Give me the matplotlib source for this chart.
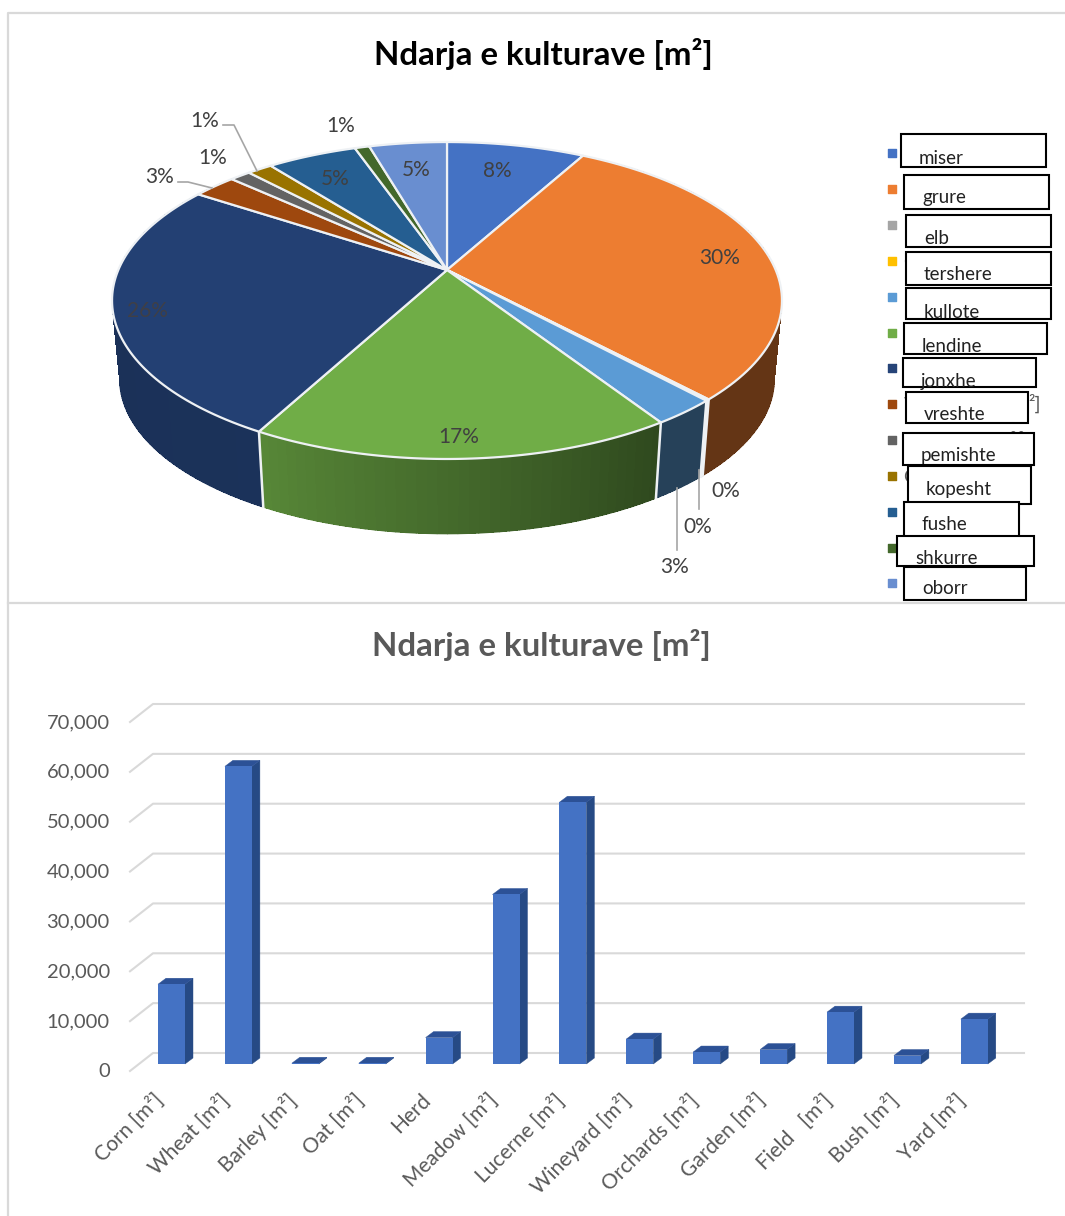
#!/usr/bin/env python3
"""Ndarja e kulturave: perspective pie on top, 3D looking columns below."""

import numpy as np
import matplotlib
matplotlib.use("Agg")
import matplotlib.pyplot as plt
from matplotlib.colors import to_rgb
from matplotlib.transforms import ScaledTranslation

plt.rcParams['font.family'] = ['Lato', 'DejaVu Sans']

# --- DATA ---
TITLE = "Ndarja e kulturave [m²]"
bar_labels = ['Corn [m²]', 'Wheat [m²]', 'Barley [m²]', 'Oat [m²]', 'Herd', 'Meadow [m²]', 'Lucerne [m²]',
              'Wineyard [m²]', 'Orchards [m²]', 'Garden [m²]', 'Field   [m²]', 'Bush [m²]', 'Yard [m²]']
areas = [16000, 59700, 150, 150, 5300, 34000, 52500, 5000, 2400, 2900, 10400, 1700, 9000]
legend_labels = ['miser', 'grure', 'elb', 'tershere', 'kullote', 'lendine', 'jonxhe',
                 'vreshte', 'pemishte', 'kopesht', 'fushe', 'shkurre', 'oborr']
y_ticks = [0, 10000, 20000, 30000, 40000, 50000, 60000, 70000]

slice_colors = ['#4472c4', '#ed7d31', '#a5a5a5', '#ffc000', '#5b9bd5', '#70ad47', '#234073',
                '#9e480e', '#636363', '#997300', '#255e91', '#43682b', '#698ed0']
legend_colors = slice_colors[:6] + ['#264478'] + slice_colors[7:]

# --- LAYOUT (pixels of the 1065x1216 page) ---
W, H = 1065, 1216
CX, CY = 447, 270
R, S, K = 328.7, 152.6, 0.1925
DEPTH, SHRINK = 79, 0.977
TEXT = '#404040'
GREY = '#595959'
LINE = '#d9d9d9'

# centre of each percentage label, same order as areas
pct_pos = [(497, 171), (720, 258), (726, 491), (698, 527), (675, 567), (459, 437), (147, 311),
           (160, 177), (213, 158), (205, 121), (335, 179), (341, 126), (416, 170)]
pct_colors = [TEXT] * 13
pct_colors[6] = '#3f3f46'
leaders = [([223, 234, 257], [125, 125, 171]),
           ([178, 188, 212], [182, 182, 188]),
           ([699, 699], [509, 470]),
           ([676.5, 676.5], [550, 488])]

legend_y = [153, 189, 225, 261, 297, 333, 368, 404, 440, 476, 512, 548, 583]
# x0, x1, y0, y1 of the white boxes pasted over the legend
boxes = [(901, 1046, 134, 167), (904, 1049, 175, 209), (906, 1051, 215, 247), (906, 1051, 252, 285),
         (906, 1051, 288, 319), (904, 1047, 323, 354), (903, 1036, 358, 387), (906, 1028, 392, 423),
         (903, 1034, 433, 465), (908, 1031, 466, 504), (904, 1019, 502, 537), (897, 1034, 536, 566),
         (904, 1026, 567, 600)]
box_text_x = [919, 922, 924, 924, 924, 922, 921, 924, 921, 926, 922, 915, 922]
box_text_y = [158, 198, 238, 275, 312, 346, 381, 415, 456, 489, 525, 559, 589]


def project(theta, bottom=False):
    """Circle angle (clockwise from top, radians) to page pixels, with perspective."""
    d = 1 + K * np.cos(theta)
    x = R * np.sin(theta) / d
    y = -S * np.cos(theta) / d
    if bottom:
        return CX + SHRINK * x, CY + DEPTH + SHRINK * y
    return CX + x, CY + y


def side_shade(theta_deg):
    return np.interp(theta_deg, [90, 147, 208, 300], [0.42, 0.42, 0.78, 0.75])


fig = plt.figure(figsize=(W / 100, H / 100), dpi=100, facecolor='white')
page = fig.add_axes([0, 0, 1, 1])
page.set_xlim(0, W)
page.set_ylim(H, 0)
page.axis('off')

# frame of the two pasted charts
page.plot([8, 8, W], [H, 13, 13], color=LINE, lw=1.6, zorder=1)
page.plot([8, W], [603, 603], color=LINE, lw=1.6, zorder=1)

page.text(543, 54, TITLE, ha='center', va='center', fontsize=23.8, fontweight='bold', color='black')
page.text(541, 645, TITLE, ha='center', va='center', fontsize=23.8, fontweight='bold', color=GREY)

# --- PIE ---
fractions = np.array(areas) / sum(areas)
edges = 2 * np.pi * np.concatenate([[0], np.cumsum(fractions)])

# outer wall first, the top covers whatever is behind it
for i, color in enumerate(slice_colors):
    a0, a1 = np.degrees(edges[i]), np.degrees(edges[i + 1])
    steps = np.arange(a0, a1, 1.5).tolist() + [a1]
    for t0, t1 in zip(steps[:-1], steps[1:]):
        thetas = np.radians([t0, min(t1 + 0.5, a1)])
        xt, yt = project(thetas)
        xb, yb = project(thetas[::-1], bottom=True)
        c = np.array(to_rgb(color)) * side_shade((t0 + t1) / 2)
        # no antialiasing here, it leaves stripes between the strips
        page.fill(np.r_[xt, xb], np.r_[yt, yb], color=c, lw=0, antialiased=False, zorder=2)
        xb, yb = project(np.radians([t0, t1]), bottom=True)
        page.plot(xb, yb, color=c, lw=1.0, solid_capstyle='round', zorder=2)

for a in edges[:-1]:
    if np.pi / 2 < a < 3 * np.pi / 2:
        xt, yt = project(a)
        xb, yb = project(a, bottom=True)
        page.plot([xt, xb], [yt, yb], color='#eef1f4', lw=1.8, zorder=3)

for i, color in enumerate(slice_colors):
    thetas = np.linspace(edges[i], edges[i + 1], 80)
    x, y = project(thetas)
    page.fill(np.r_[CX, x], np.r_[CY, y], facecolor=color, edgecolor='#eef1f4', lw=1.6,
              joinstyle='round', zorder=4)

for (x, y), frac, c in zip(pct_pos, fractions, pct_colors):
    page.text(x, y, f"{round(frac * 100)}%", ha='center', va='center', fontsize=15, color=c, zorder=6)

for xs, ys in leaders:
    page.plot(xs, ys, color='#a6a6a6', lw=1.2, zorder=5)

# --- LEGEND with the pasted boxes ---
for y, color in zip(legend_y, legend_colors):
    page.scatter([892], [y], marker='s', s=34, color=color, zorder=2)

# original legend entries are still visible around the boxes
for y, label in zip(legend_y, bar_labels):
    page.text(904, y, label, ha='left', va='center', fontsize=14, color=GREY, zorder=2)
page.text(1041, 403, '²]', ha='right', va='center', fontsize=14, color=GREY, zorder=2)
page.text(1031, 440, '[m²]', ha='right', va='center', fontsize=14, color=GREY, zorder=2)

for i, (x0, x1, y0, y1) in enumerate(boxes):
    page.fill([x0, x1, x1, x0], [y0, y0, y1, y1], facecolor='white', edgecolor='black', lw=1.5, zorder=7 + i)
    page.text(box_text_x[i], box_text_y[i], legend_labels[i], ha='left', va='center', fontsize=13.5,
              color='#222222', zorder=7 + i)

# --- COLUMNS ---
# axes sit on the plane of the column fronts: 0 at y=1064, 70000 at y=715
STEP = 66.9
left_px, right_px = 130, 1001
ax = fig.add_axes([left_px / W, 1 - 1064 / H, (right_px - left_px) / W, 349 / H])
ax.patch.set_alpha(0)
ax.set_xlim((left_px - 171.5) / STEP, (right_px - 171.5) / STEP)
ax.set_ylim(0, 70000)
PX_X = 1 / STEP
PX_Y = 70000 / 349

x_min = ax.get_xlim()[0]
for v in y_ticks:
    # stub from the front plane to the back wall, then along the wall
    ax.plot([x_min, x_min + 23 * PX_X, x_min + 894 * PX_X],
            [v - 7 * PX_Y, v + 11 * PX_Y, v + 11 * PX_Y],
            color=LINE, lw=1.5, clip_on=False, zorder=1)

positions = np.arange(len(areas))
bar_w = 27 * PX_X
dx, dy = 8 * PX_X, 6 * PX_Y
ax.bar(positions, areas, width=bar_w, color='#4472c4', zorder=3)
for p, v in zip(positions, areas):
    x1 = p + bar_w / 2
    ax.fill([x1, x1 + dx, x1 + dx, x1], [0, dy, v + dy, v], color='#264a85', lw=0.3, clip_on=False, zorder=2)
    ax.fill([p - bar_w / 2, x1, x1 + dx, p - bar_w / 2 + dx], [v, v, v + dy, v + dy], color='#2c5196', lw=0.3,
            clip_on=False, zorder=2)

ax.set_xticks(positions)
ax.set_xticklabels(bar_labels, rotation=45, ha='right', rotation_mode='anchor', fontsize=15, color=GREY)
ax.set_yticks(y_ticks)
ax.set_yticklabels([f"{v:,}" for v in y_ticks], fontsize=14.5, color=GREY)
ax.tick_params(axis='both', length=0)
ax.tick_params(axis='y', pad=14.5)
ax.tick_params(axis='x', pad=20)
y_shift = ScaledTranslation(0, -6 / 100, fig.dpi_scale_trans)
for label in ax.get_yticklabels():
    label.set_transform(label.get_transform() + y_shift)
x_shift = ScaledTranslation(-19 / 100, 2 / 100, fig.dpi_scale_trans)
for label in ax.get_xticklabels():
    label.set_transform(label.get_transform() + x_shift)
for spine in ax.spines.values():
    spine.set_visible(False)

fig.savefig('out.png', dpi=100)
